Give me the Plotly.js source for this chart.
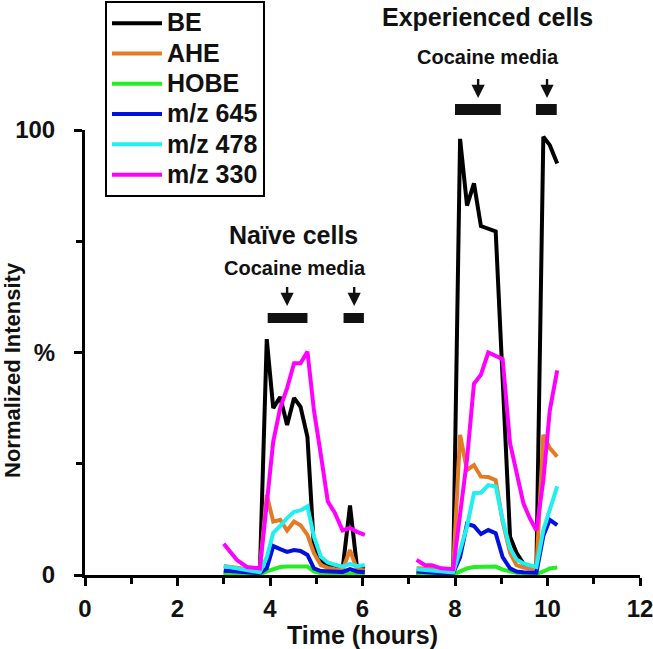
<!DOCTYPE html>
<html>
<head>
<meta charset="utf-8">
<script src="https://cdn.plot.ly/plotly-3.0.1.min.js"></script>
<style>html,body{margin:0;padding:0;background:#fff}#chart{width:653px;height:649px}</style>
</head>
<body>
<div id="chart"></div>
<script>
// Time points (hours)
const naiveTime = [3.0, 3.28, 3.5, 3.78, 3.93, 4.07, 4.22, 4.37, 4.52, 4.66, 4.81, 4.95, 5.1, 5.25, 5.4, 5.57, 5.73, 5.88, 6.05];
const expTime   = [7.17, 7.35, 7.5, 7.7, 7.96, 8.11, 8.26, 8.41, 8.56, 8.72, 8.88, 9.03, 9.19, 9.33, 9.48, 9.62, 9.76, 9.91, 10.05, 10.21];

// Naive cells (normalized intensity %)
const naiveBE    = [0.5, 0.4, 0.3, 0.3, 53, 37.5, 40, 33.7, 39.8, 37.8, 31, 6, 3.4, 2.2, 1.8, 1.4, 15.6, 1.8, 1.4];
const naiveAHE   = [2, 1.5, 1.3, 1.2, 18, 12, 12.4, 10, 12, 11.2, 9, 4.9, 2.2, 1.6, 1.3, 1.2, 5.6, 1.3, 1];
const naiveHOBE  = [0.1, 0.1, 0.1, 0.1, 0.8, 1.4, 1.8, 1.9, 1.9, 2, 1.9, 0.8, 0.4, 0.3, 0.3, 0.3, 0.5, 0.3, 0.3];
const naive645   = [1, 0.8, 0.5, 0.4, 1.5, 6.5, 5.8, 5.2, 5.6, 5.4, 4.5, 1.5, 0.9, 0.8, 0.7, 0.7, 1.3, 0.8, 0.6];
const naive478   = [2, 1.5, 1, 0.6, 4, 9.5, 11, 12.8, 14.2, 14.5, 15.4, 8.6, 4.1, 2.8, 2.3, 1.9, 2.5, 2, 2.2];
const naive330   = [7, 3.4, 1.8, 1.5, 16, 30, 37.5, 42, 47.6, 47.6, 50.2, 37, 27, 16.5, 14, 10, 10.6, 9.7, 9];

// Experienced cells (normalized intensity %)
const expBE    = [0.4, 0.3, 0.3, 0.3, 0.3, 98, 83, 88, 78.4, 77.9, 77.2, 44, 8.6, 5, 2.5, 1.8, 1.5, 98.5, 96.6, 92.5];
const expAHE   = [1.5, 1.5, 1.4, 1.3, 1.2, 31.5, 23.6, 24.7, 22.1, 22, 21.3, 12, 5, 2.2, 1.7, 1.5, 1.3, 31.5, 28.5, 26.6];
const expHOBE  = [0.1, 0.1, 0.1, 0.1, 0.1, 0.8, 1.5, 1.8, 1.8, 1.9, 1.9, 1.2, 0.8, 0.5, 0.4, 0.3, 0.2, 0.8, 1.5, 1.7];
const exp645   = [0.8, 0.6, 0.5, 0.4, 0.4, 4, 11.5, 11, 9.2, 10.1, 9.4, 4, 1.5, 0.8, 0.6, 0.5, 0.5, 8.8, 12.4, 11.2];
const exp478   = [1.3, 1.1, 1.0, 0.8, 0.6, 5.6, 10.9, 18.4, 18.5, 20.2, 19.9, 12.4, 6, 3.5, 2.6, 2.2, 1.8, 10.1, 15, 19.9];
const exp330   = [3.4, 2.2, 2.2, 1.5, 1.3, 14, 26, 43, 45, 50, 49.2, 48.5, 29.6, 22.8, 16.1, 12.7, 10, 21.3, 37, 46];

const seriesNames = ['BE', 'AHE', 'HOBE', 'm/z 645', 'm/z 478', 'm/z 330'];
const naiveSeries = [naiveBE, naiveAHE, naiveHOBE, naive645, naive478, naive330];
const expSeries   = [expBE, expAHE, expHOBE, exp645, exp478, exp330];
const seriesColors = ['#000000', '#E57A25', '#22EE22', '#0010DD', '#22F0F0', '#FF00FF'];

const xTickVals = [0, 2, 4, 6, 8, 10, 12];
const yTickVals = [0, 50, 100];
const yTickText = ['0', '%', '100'];

const FONT = 'Liberation Sans, Arial, sans-serif';

// join the two segments with a gap (null) so each series is one legend entry
const traces = seriesNames.map((name, i) => ({
  type: 'scatter',
  mode: 'lines',
  name: '<span style="font-size:25px">' + name + '</span>',
  x: naiveTime.concat([null], expTime),
  y: naiveSeries[i].concat([null], expSeries[i]),
  connectgaps: false,
  line: {color: seriesColors[i], width: 4},
  hoverinfo: 'skip'
}));

const H0 = 575, PH = 445; // for converting layout pixel positions to paper coords
const py = p => (H0 - p) / PH;

const arrow = (x, yHead) => ({text: ' ', xref: 'x', yref: 'paper', x: x, y: py(yHead), ax: 0, ay: -20,
  font: {size: 1}, borderpad: 0,
  showarrow: true, arrowhead: 2, arrowsize: 1.1, arrowwidth: 2.4, arrowcolor: '#111', standoff: 0});

const label = (text, x, y, size) => ({text: text, xref: 'x', yref: 'paper', x: x, y: py(y),
  xanchor: 'center', yanchor: 'middle', showarrow: false,
  font: {family: FONT, size: size, weight: 'bold', color: '#111'}});

const layout = {
  width: 653, height: 649,
  margin: {l: 85, r: 13, t: 130, b: 74, pad: 0, autoexpand: false},
  paper_bgcolor: '#ffffff', plot_bgcolor: '#ffffff',
  font: {family: FONT, color: '#111'},
  showlegend: true,
  legend: {
    x: 0.036, y: py(1), xanchor: 'left', yanchor: 'top',
    bordercolor: '#000', borderwidth: 2, bgcolor: '#fff',
    font: {family: FONT, size: 21, weight: 'bold', color: '#111'},
    itemwidth: 50,
    tracegroupgap: 0
  },
  xaxis: {
    range: [0, 12], tickmode: 'array', tickvals: xTickVals,
    ticks: 'outside', ticklen: 8, tickwidth: 3, tickcolor: '#000',
    showline: true, linewidth: 3, linecolor: '#000',
    showgrid: false, zeroline: false,
    tickfont: {family: FONT, size: 24, weight: 'bold', color: '#111'},
    ticklabelstandoff: 2, ticklabeloverflow: 'allow',
    minor: {tickmode: 'array', tickvals: [1, 3, 5, 7, 9, 11], ticks: 'outside', ticklen: 6, tickwidth: 3, tickcolor: '#000', showgrid: false},
    title: {text: 'Time (hours)', font: {family: FONT, size: 25, weight: 'bold', color: '#111'}, standoff: 2},
    automargin: false, fixedrange: true
  },
  yaxis: {
    range: [0, 100], tickmode: 'array', tickvals: yTickVals, ticktext: yTickText,
    ticks: 'outside', ticklen: 8, tickwidth: 3, tickcolor: '#000',
    showline: true, linewidth: 3, linecolor: '#000',
    showgrid: false, zeroline: false,
    tickfont: {family: FONT, size: 24, weight: 'bold', color: '#111'},
    ticklabelstandoff: 14,
    minor: {tickmode: 'array', tickvals: [25, 75], ticks: 'outside', ticklen: 6, tickwidth: 3, tickcolor: '#000', showgrid: false},
    automargin: false, fixedrange: true
  },
  shapes: [
    {type: 'rect', xref: 'x', yref: 'paper', x0: 3.95, x1: 4.81, y0: py(323), y1: py(313), fillcolor: '#111', line: {width: 0}},
    {type: 'rect', xref: 'x', yref: 'paper', x0: 5.59, x1: 6.03, y0: py(323), y1: py(313), fillcolor: '#111', line: {width: 0}},
    {type: 'rect', xref: 'x', yref: 'paper', x0: 8.0, x1: 8.99, y0: py(115), y1: py(104), fillcolor: '#111', line: {width: 0}},
    {type: 'rect', xref: 'x', yref: 'paper', x0: 9.75, x1: 10.2, y0: py(115), y1: py(104), fillcolor: '#111', line: {width: 0}}
  ],
  annotations: [
    {text: 'Normalized Intensity', xref: 'paper', yref: 'paper', x: (12 - 85) / 555, y: py(370), textangle: -90,
     showarrow: false, xanchor: 'center', yanchor: 'middle', font: {family: FONT, size: 22, weight: 'bold', color: '#111'}},
    label('Naïve cells', 4.5, 235, 25),
    label('Cocaine media', 4.54, 268, 20),
    label('Experienced cells', 8.71, 17, 25),
    label('Cocaine media', 8.71, 57, 20),
    arrow(4.37, 306), arrow(5.82, 306), arrow(8.5, 98), arrow(9.99, 98)
  ]
};

Plotly.newPlot('chart', traces, layout, {displayModeBar: false, staticPlot: true});
</script>
</body>
</html>
